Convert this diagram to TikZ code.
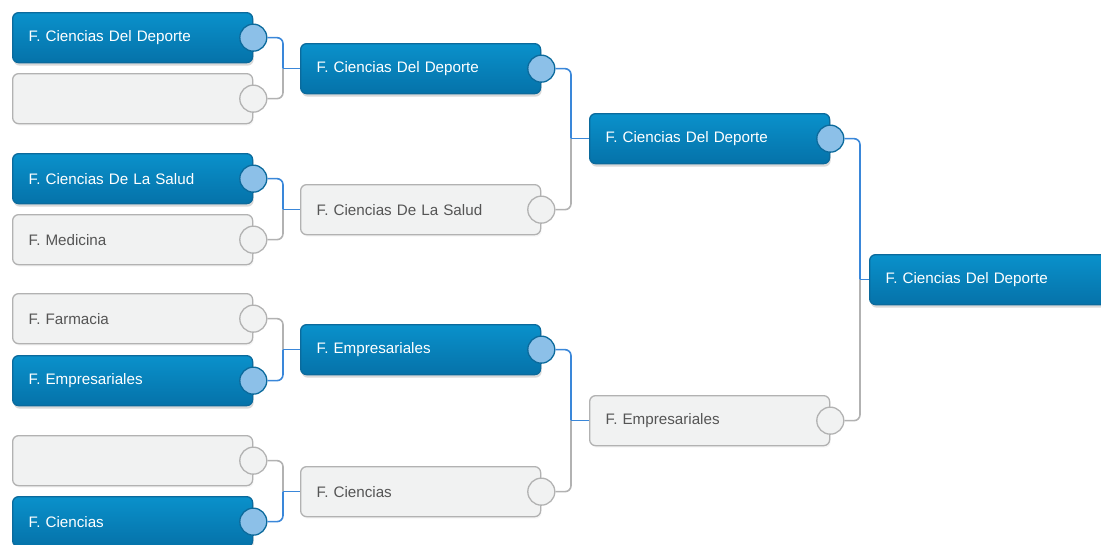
\documentclass[tikz,border=0pt]{standalone}
\usepackage{fontspec}
\setmainfont{Liberation Sans}
\usetikzlibrary{shadows}

\definecolor{bluetop}{HTML}{0A91CB}
\definecolor{bluebot}{HTML}{0572A9}
\definecolor{boxedge}{HTML}{0B6A9C}
\definecolor{dotblue}{HTML}{8CC0E8}
\definecolor{wireblue}{HTML}{3A87D9}
\definecolor{greyedge}{HTML}{B2B2B2}
\definecolor{greyfill}{HTML}{F1F2F2}
\definecolor{greytext}{HTML}{555555}

\begin{document}
\begin{tikzpicture}[x=1pt,y=-1pt,
    team/.style={rectangle,rounded corners=6pt,anchor=north west,minimum height=50pt,
                 text width=208pt,inner xsep=16pt,align=left,line width=1.3pt,
                 font=\fontsize{15.2}{18}\selectfont},
    winbox/.style={team,draw=boxedge,top color=bluetop,bottom color=bluebot,text=white,
                   drop shadow={shadow xshift=1pt,shadow yshift=-3pt,opacity=0.3}},
    losebox/.style={team,draw=greyedge,fill=greyfill,text=greytext,
                    drop shadow={shadow xshift=1pt,shadow yshift=-2pt,opacity=0.08}},
    windot/.style={circle,minimum size=27pt,inner sep=0pt,line width=1.3pt,draw=boxedge,fill=dotblue},
    losedot/.style={circle,minimum size=27pt,inner sep=0pt,line width=1.3pt,draw=greyedge,fill=greyfill},
    winwire/.style={draw=wireblue,line width=1.6pt,rounded corners=6pt},
    losewire/.style={draw=greyedge,line width=1.6pt,rounded corners=6pt}]

  \useasboundingbox (0,0) rectangle (1101,544);
  \clip (0,0) rectangle (1101,544);

  % first round
  \node[winbox]  (r1a) at (12,12)  {F. Ciencias Del Deporte};
  \node[losebox] (r1b) at (12,73)  {};
  \node[winbox]  (r1c) at (12,153) {F. Ciencias De La Salud};
  \node[losebox] (r1d) at (12,214) {F. Medicina};
  \node[losebox] (r1e) at (12,293) {F. Farmacia};
  \node[winbox]  (r1f) at (12,355) {F. Empresariales};
  \node[losebox] (r1g) at (12,435) {};
  \node[winbox]  (r1h) at (12,496) {F. Ciencias};

  % second round
  \node[winbox]  (r2a) at (300,43)  {F. Ciencias Del Deporte};
  \node[losebox] (r2b) at (300,184) {F. Ciencias De La Salud};
  \node[winbox]  (r2c) at (300,324) {F. Empresariales};
  \node[losebox] (r2d) at (300,466) {F. Ciencias};

  % semi final and final
  \node[winbox]  (r3a) at (589,113) {F. Ciencias Del Deporte};
  \node[losebox] (r3b) at (589,395) {F. Empresariales};
  \node[winbox]  (r4)  at (869,254) {F. Ciencias Del Deporte};

  % score dots
  \node[windot]  (d1a) at (r1a.east) {};
  \node[losedot] (d1b) at (r1b.east) {};
  \node[windot]  (d1c) at (r1c.east) {};
  \node[losedot] (d1d) at (r1d.east) {};
  \node[losedot] (d1e) at (r1e.east) {};
  \node[windot]  (d1f) at (r1f.east) {};
  \node[losedot] (d1g) at (r1g.east) {};
  \node[windot]  (d1h) at (r1h.east) {};
  \node[windot]  (d2a) at (r2a.east) {};
  \node[losedot] (d2b) at (r2b.east) {};
  \node[windot]  (d2c) at (r2c.east) {};
  \node[losedot] (d2d) at (r2d.east) {};
  \node[windot]  (d3a) at (r3a.east) {};
  \node[losedot] (d3b) at (r3b.east) {};

  % joints
  \coordinate (j2a) at ([xshift=-17pt]r2a.west);
  \coordinate (j2b) at ([xshift=-17pt]r2b.west);
  \coordinate (j2c) at ([xshift=-17pt]r2c.west);
  \coordinate (j2d) at ([xshift=-17pt]r2d.west);
  \coordinate (j3a) at ([xshift=-18pt]r3a.west);
  \coordinate (j3b) at ([xshift=-18pt]r3b.west);
  \coordinate (j4)  at ([xshift=-9pt]r4.west);

  \draw[winwire]  (d1a.east) -| (j2a);
  \draw[losewire] (d1b.east) -| (j2a);
  \draw[winwire]  (j2a) -- (r2a.west);
  \draw[winwire]  (d1c.east) -| (j2b);
  \draw[losewire] (d1d.east) -| (j2b);
  \draw[winwire]  (j2b) -- (r2b.west);
  \draw[losewire] (d1e.east) -| (j2c);
  \draw[winwire]  (d1f.east) -| (j2c);
  \draw[winwire]  (j2c) -- (r2c.west);
  \draw[losewire] (d1g.east) -| (j2d);
  \draw[winwire]  (d1h.east) -| (j2d);
  \draw[winwire]  (j2d) -- (r2d.west);

  \draw[winwire]  (d2a.east) -| (j3a);
  \draw[losewire] (d2b.east) -| (j3a);
  \draw[winwire]  (j3a) -- (r3a.west);
  \draw[winwire]  (d2c.east) -| (j3b);
  \draw[losewire] (d2d.east) -| (j3b);
  \draw[winwire]  (j3b) -- (r3b.west);

  \draw[winwire]  (d3a.east) -| (j4);
  \draw[losewire] (d3b.east) -| (j4);
  \draw[winwire]  (j4) -- (r4.west);
\end{tikzpicture}
\end{document}
